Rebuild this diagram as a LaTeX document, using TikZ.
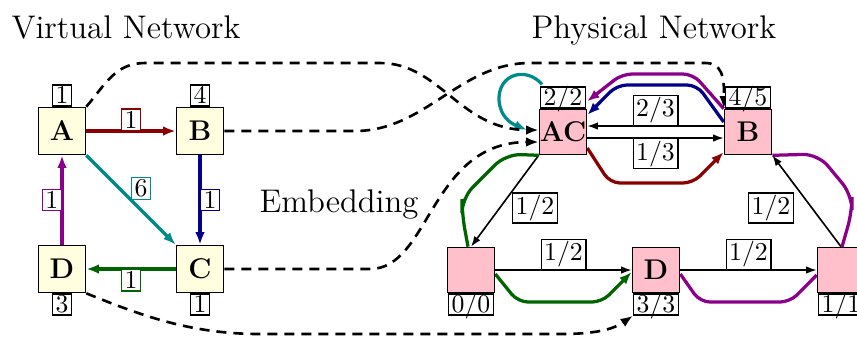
\documentclass[tikz,border=0pt]{standalone}
\usetikzlibrary{arrows.meta,calc,backgrounds}
\definecolor{vyel}{RGB}{255,255,224}
\definecolor{ppink}{RGB}{255,192,203}
\definecolor{cRed}{RGB}{139,0,0}
\definecolor{cBlue}{RGB}{0,0,139}
\definecolor{cGreen}{RGB}{0,100,0}
\definecolor{cPurple}{RGB}{139,0,139}
\definecolor{cTeal}{RGB}{0,139,139}
\tikzset{
  vnode/.style={draw, line width=0.65pt, fill=vyel, minimum width=18.8pt, minimum height=18.8pt, inner sep=0pt, font=\fontsize{11.4}{13}\selectfont\bfseries},
  pnode/.style={draw, line width=0.65pt, fill=ppink, minimum width=18.8pt, minimum height=18pt, inner sep=0pt, font=\fontsize{11.4}{13}\selectfont\bfseries},
  nlab/.style={draw, line width=0.55pt, fill=white, text=black, inner xsep=1.2pt, inner ysep=0.9pt, text height=6.6pt, text depth=0pt, font=\fontsize{10.3}{12}\selectfont},
  elab/.style={draw, line width=0.55pt, fill=white, text=black, inner xsep=1.2pt, inner ysep=0.8pt, font=\fontsize{10.3}{12}\selectfont},
  vedge/.style={line width=1.3pt, -{Latex[length=5pt,width=3.8pt]}},
  pedge/.style={line width=0.65pt, -{Latex[length=4.2pt,width=3pt]}},
  emb/.style={line width=1.3pt, rounded corners=4pt},
  embarrow/.style={emb, -{Latex[length=5pt,width=3.8pt]}},
  dmap/.style={line width=1.05pt, dash pattern=on 4pt off 2.8pt, -{Latex[length=5pt,width=3.8pt]}},
  titletext/.style={font=\fontsize{13.1}{15}\selectfont, anchor=base},
}
\begin{document}
\begin{tikzpicture}[x=0.4pt,y=0.4pt]
\useasboundingbox (0,0) rectangle (857,-336);
% titles
\node[titletext] (tv) at (126,-38) {Virtual Network};
\node[titletext] (tp) at (654,-38) {Physical Network};
\node[titletext] (te) at (339,-212) {Embedding};
% virtual nodes
\node[vnode] (A) at (62,-131) {A};
\node[vnode] (B) at (200,-131) {B};
\node[vnode] (C) at (200,-269) {C};
\node[vnode] (D) at (62,-269) {D};
\node[nlab, anchor=south] (Al) at (A.north) {1};
\node[nlab, anchor=south] (Bl) at (B.north) {4};
\node[nlab, anchor=north] (Cl) at (C.south) {1};
\node[nlab, anchor=north] (Dl) at (D.south) {3};
% physical nodes
\node[pnode] (AC) at (563,-132) {AC};
\node[pnode] (PB) at (748,-132) {B};
\node[pnode] (P1) at (471,-270) {};
\node[pnode] (PD) at (656,-270) {D};
\node[pnode] (P4) at (841,-270) {};
\node[nlab, anchor=south] (ACl) at (AC.north) {2/2};
\node[nlab, anchor=south] (PBl) at (PB.north) {4/5};
\node[nlab, anchor=north] (P1l) at (P1.south) {0/0};
\node[nlab, anchor=north] (PDl) at (PD.south) {3/3};
\node[nlab, anchor=north] (P4l) at (P4.south) {1/1};
\node[elab] (lx) at (535,-208) {1/2};
\node[elab] (ly) at (771,-208) {1/2};
\begin{pgfonlayer}{background}
% virtual edges
\draw[vedge, cRed] (A) -- (B) node[elab, draw=cRed, midway, anchor=south] {1};
\draw[vedge, cBlue] (B) -- (C) node[elab, draw=cBlue, midway, anchor=west] {1};
\draw[vedge, cGreen] (C) -- (D) node[elab, draw=cGreen, midway, anchor=north] {1};
\draw[vedge, cPurple] (D) -- (A) node[elab, draw=cPurple, midway, anchor=east] {1};
\draw[vedge, cTeal] (A.south east) -- (C.north west) node[elab, draw=cTeal, midway, anchor=south west] {6};
% physical edges
\draw[pedge] ($(PB.west)+(0,6)$) -- ($(AC.east)+(0,6)$) node[elab, midway, anchor=south] {2/3};
\draw[pedge] ($(AC.east)+(0,-6)$) -- ($(PB.west)+(0,-6)$) node[elab, midway, anchor=north] {1/3};
\draw[pedge] (AC.south west) -- (P1.north);
\draw[pedge] (P1) -- (PD) node[elab, midway, anchor=south] {1/2};
\draw[pedge] (PD) -- (P4) node[elab, midway, anchor=south] {1/2};
\draw[pedge] (P4.north) -- (PB.south east);
% embedded paths
\draw[embarrow, cRed] ($(AC.east)+(0,-16)$) -- (610,-183) -- (693,-183) -- ($(PB.west)+(0,-20)$);
\draw[embarrow, cBlue] ($(PB.west)+(0,10)$) -- (697,-85) -- (617,-85) -- ($(AC.east)+(0,17)$);
\draw[embarrow, cPurple] (PB.north west) -- (693,-74) -- (622,-74) -- ($(ACl.east)+(1,-4)$);
\draw[emb, cGreen, rounded corners=6pt] (AC.south west) -- (506,-154) -- (462,-198) -- (462,-214) -- ($(P1.north)+(-3,0)$);
\draw[embarrow, cGreen] ($(P1.east)+(0,-4)$) -- (518,-302) -- (602,-302) -- ($(PD.west)+(0,-2)$);
\draw[emb, cPurple] ($(PD.east)+(0,-4)$) -- (700,-302) -- (790,-302) -- ($(P4.west)+(0,-5)$);
\draw[emb, cPurple, rounded corners=6pt] ($(P4.north)+(1,0)$) -- (852,-212) -- (852,-195) -- (818,-154) -- (PB.south east);
\draw[cTeal, line width=1.3pt, -{Latex[length=5pt,width=3.8pt]}] ($(ACl.north west)+(2,2)$) .. controls (526,-66) and (498,-74) .. (499,-100) .. controls (500,-116) and (510,-123) .. (527,-130);
% embedding map
\draw[dmap] (A.north east) .. controls (105,-85) and (115,-63) .. (145,-63) -- (380,-63) .. controls (440,-63) and (460,-130) .. ($(AC.west)+(0,2)$);
\draw[dmap] (B) -- (355,-131) .. controls (425,-131) and (460,-63) .. (530,-63) -- (705,-63) .. controls (721,-63) and (724.5,-75) .. (PB.north west);
\draw[dmap] (C) -- (370,-269) .. controls (430,-269) and (430,-142) .. ($(AC.west)+(0,-10)$);
\draw[dmap] (D.south east) .. controls (140,-315) and (190,-334) .. (260,-334) -- (560,-334) .. controls (600,-334) and (615,-328) .. (PDl.south west);
\end{pgfonlayer}
\end{tikzpicture}
\end{document}
